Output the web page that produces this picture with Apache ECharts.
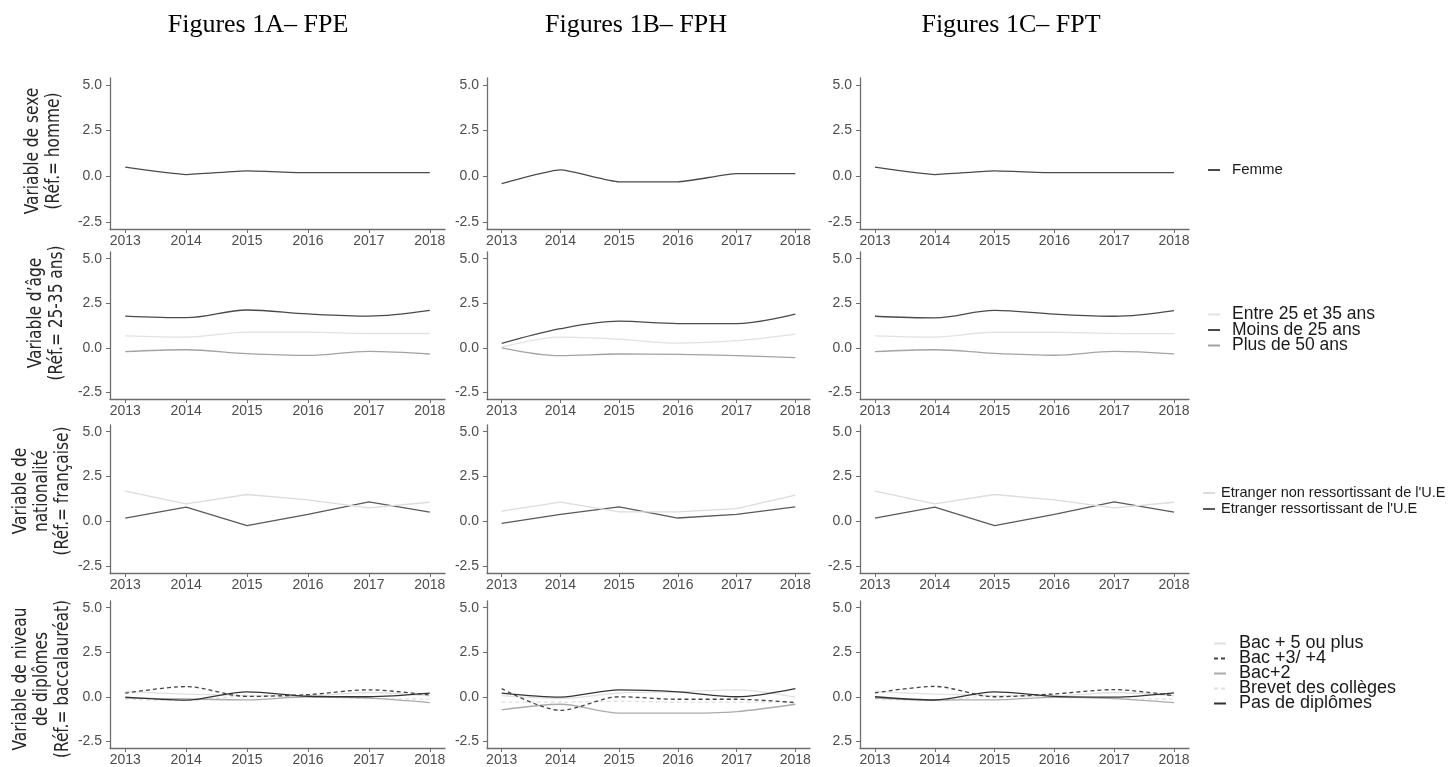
<!DOCTYPE html>
<html><head><meta charset="utf-8">
<script src="https://cdn.jsdelivr.net/npm/echarts@6/dist/echarts.min.js"></script>
<style>html,body{margin:0;padding:0;background:#fff}#c{width:1453px;height:767px}</style>
</head><body><div id="c"></div>
<script>
// ---------- data ----------
const years = [2013, 2014, 2015, 2016, 2017, 2018];
const yTicks = [-2.5, 0, 2.5, 5];
const columnTitles = ['Figures 1A\u2013 FPE', 'Figures 1B\u2013 FPH', 'Figures 1C\u2013 FPT'];
const rowLabels = [
  ['Variable de sexe', '(Réf.= homme)'],
  ['Variable d\u2019âge', '(Réf.= 25-35 ans)'],
  ['Variable de', 'nationalité', '(Réf.= française)'],
  ['Variable de niveau', 'de diplômes', '(Réf.= baccalauréat)']
];

// Row 1 : sexe
const femmeFPE = [0.5, 0.1, 0.3, 0.2, 0.2, 0.2];
const femmeFPH = [-0.4, 0.35, -0.3, -0.3, 0.15, 0.15];
const femmeFPT = [0.5, 0.1, 0.3, 0.2, 0.2, 0.2];

// Row 2 : âge
const entreFPE = [0.67, 0.6, 0.88, 0.88, 0.8, 0.8];
const moinsFPE = [1.78, 1.69, 2.12, 1.9, 1.78, 2.1];
const plusFPE  = [-0.22, -0.11, -0.33, -0.43, -0.2, -0.35];
const entreFPH = [0.04, 0.6, 0.48, 0.26, 0.4, 0.77];
const moinsFPH = [0.24, 1.07, 1.49, 1.36, 1.36, 1.89];
const plusFPH  = [0, -0.44, -0.35, -0.37, -0.44, -0.55];
const entreFPT = [0.67, 0.6, 0.87, 0.87, 0.81, 0.79];
const moinsFPT = [1.77, 1.68, 2.1, 1.89, 1.77, 2.09];
const plusFPT  = [-0.22, -0.11, -0.32, -0.42, -0.2, -0.34];

// Row 3 : nationalité
const nonUeFPE = [1.69, 0.98, 1.5, 1.2, 0.76, 1.07];
const ueFPE    = [0.19, 0.8, -0.24, 0.39, 1.09, 0.52];
const nonUeFPH = [0.58, 1.07, 0.53, 0.53, 0.71, 1.47];
const ueFPH    = [-0.11, 0.39, 0.81, 0.19, 0.39, 0.81];
const nonUeFPT = [1.69, 0.98, 1.5, 1.2, 0.76, 1.07];
const ueFPT    = [0.19, 0.8, -0.24, 0.39, 1.09, 0.52];

// Row 4 : diplômes
const bac5FPE   = [0.3, 0.15, 0.07, 0.05, 0.24, 0.05];
const bac34FPE  = [0.2, 0.57, 0.02, 0.12, 0.39, 0.1];
const bac2FPE   = [-0.07, -0.12, -0.17, 0, -0.08, -0.33];
const brevetFPE = [-0.13, -0.22, 0.05, 0, -0.1, -0.13];
const pasFPE    = [-0.02, -0.19, 0.28, 0.03, 0, 0.2];
const bac5FPH   = [0.07, -0.1, 0.21, 0.28, 0.39, -0.02];
const bac34FPH  = [0.46, -0.76, 0, -0.14, -0.14, -0.33];
const bac2FPH   = [-0.74, -0.42, -0.92, -0.92, -0.83, -0.42];
const brevetFPH = [-0.3, -0.3, -0.25, -0.3, -0.3, -0.3];
const pasFPH    = [0.21, -0.02, 0.39, 0.28, 0, 0.46];
const bac5FPT   = [0.3, 0.15, 0.07, 0.05, 0.24, 0.05];
const bac34FPT  = [0.22, 0.58, 0, 0.16, 0.4, 0.06];
const bac2FPT   = [-0.07, -0.18, -0.17, -0.03, -0.1, -0.33];
const brevetFPT = [-0.13, -0.22, 0.05, 0, -0.1, -0.13];
const pasFPT    = [0, -0.18, 0.28, 0.02, -0.02, 0.22];

// series per row: [name, FPE, FPH, FPT] in drawing order
const rowSeries = [
  [['Femme', femmeFPE, femmeFPH, femmeFPT]],
  [['Entre 25 et 35 ans', entreFPE, entreFPH, entreFPT],
   ['Plus de 50 ans', plusFPE, plusFPH, plusFPT],
   ['Moins de 25 ans', moinsFPE, moinsFPH, moinsFPT]],
  [["Etranger ressortissant de l'U.E", ueFPE, ueFPH, ueFPT],
   ["Etranger non ressortissant de l'U.E", nonUeFPE, nonUeFPH, nonUeFPT]],
  [['Bac + 5 ou plus', bac5FPE, bac5FPH, bac5FPT],
   ['Brevet des collèges', brevetFPE, brevetFPH, brevetFPT],
   ['Bac+2', bac2FPE, bac2FPH, bac2FPT],
   ['Bac +3/ +4', bac34FPE, bac34FPH, bac34FPT],
   ['Pas de diplômes', pasFPE, pasFPH, pasFPT]]
];
const legendOrder = [
  ['Femme'],
  ['Entre 25 et 35 ans', 'Moins de 25 ans', 'Plus de 50 ans'],
  ["Etranger non ressortissant de l'U.E", "Etranger ressortissant de l'U.E"],
  ['Bac + 5 ou plus', 'Bac +3/ +4', 'Bac+2', 'Brevet des collèges', 'Pas de diplômes']
];

// ---------- styles / layout ----------
const styles = {
  'Femme': {color: '#4a4a4a'},
  'Entre 25 et 35 ans': {color: '#e2e2e2'},
  'Moins de 25 ans': {color: '#4a4a4a'},
  'Plus de 50 ans': {color: '#a3a3a3'},
  "Etranger non ressortissant de l'U.E": {color: '#dcdcdc'},
  "Etranger ressortissant de l'U.E": {color: '#5a5a5a'},
  'Bac + 5 ou plus': {color: '#e0e0e0'},
  'Bac +3/ +4': {color: '#444444', type: [4, 3]},
  'Bac+2': {color: '#ababab'},
  'Brevet des collèges': {color: '#e0e0e0', type: [4, 3]},
  'Pas de diplômes': {color: '#333333'}
};
const smoothByRow = [0.15, 0.35, false, 0.3];
const colBoxes = [{left: 110, width: 335}, {left: 487, width: 323}, {left: 860, width: 329}];
const rowBoxes = [{top: 78, height: 151}, {top: 252, height: 147}, {top: 425, height: 148}, {top: 601, height: 148}];
const colCenters = [258, 636, 1011];
const rowLabelPos = [[44, 151], [47, 313], [42, 491], [42, 679]];
const legendPos = [
  {left: 1207, top: 162.5, fontSize: 15, lh: 15, pad: 7, gap: 0},
  {left: 1207, top: 305.5, fontSize: 17.5, lh: 15.5, pad: 7, gap: -2.5},
  {left: 1202, top: 485, fontSize: 14.5, lh: 16, pad: 1, gap: 0},
  {left: 1213, top: 634.5, fontSize: 18, lh: 15, pad: 8, gap: -3}
];

const axisColor = '#6e6e6e';
const labelColor = '#4d4d4d';
const font = 'Liberation Sans, Arial, sans-serif';

const grid = [], xAxis = [], yAxis = [], series = [], legend = [], graphic = [];
let gi = 0;
for (let r = 0; r < 4; r++) {
  for (let c = 0; c < 3; c++) {
    grid.push({left: colBoxes[c].left, width: colBoxes[c].width, top: rowBoxes[r].top, height: rowBoxes[r].height, containLabel: false});
    xAxis.push({
      type: 'value', gridIndex: gi, min: 2012.75, max: 2018.25,
      axisLine: {onZero: false, lineStyle: {color: axisColor, width: 1.3}},
      axisTick: {show: true, length: 4, customValues: years, lineStyle: {color: axisColor}},
      axisLabel: {customValues: years, margin: 5, color: labelColor, fontSize: 14, fontFamily: font, formatter: v => String(v)},
      splitLine: {show: false}
    });
    const oddLabel = (r === 3 && c === 2);
    yAxis.push({
      type: 'value', gridIndex: gi, min: -2.875, max: 5.375,
      axisLine: {show: true, onZero: false, lineStyle: {color: axisColor, width: 1.3}},
      axisTick: {show: true, length: 4, customValues: yTicks, lineStyle: {color: axisColor}},
      axisLabel: {customValues: yTicks, margin: 8, color: labelColor, fontSize: 14, fontFamily: font,
        formatter: v => (oddLabel && v === -2.5) ? '2.5' : v.toFixed(1)},
      splitLine: {show: false}
    });
    rowSeries[r].forEach(s => {
      const st = styles[s[0]];
      series.push({
        type: 'line', name: s[0], xAxisIndex: gi, yAxisIndex: gi,
        data: years.map((y, i) => [y, s[c + 1][i]]),
        symbol: 'none', smooth: smoothByRow[r],
        color: st.color,
        lineStyle: {color: st.color, width: 1.3, type: st.type || 'solid'},
        silent: true
      });
    });
    gi++;
  }
  const lp = legendPos[r];
  legend.push({
    orient: 'vertical', left: lp.left, top: lp.top, padding: 0, itemGap: lp.gap,
    itemWidth: 12, itemHeight: 8, selectedMode: false,
    itemStyle: {opacity: 0},
    data: legendOrder[r],
    textStyle: {fontSize: lp.fontSize, fontFamily: font, color: '#1a1a1a', lineHeight: lp.lh, padding: [0, 0, 0, lp.pad]}
  });
  graphic.push({
    type: 'text', x: rowLabelPos[r][0], y: rowLabelPos[r][1], rotation: Math.PI / 2, scaleX: 0.9,
    style: {text: rowLabels[r].join('\n'), align: 'center', verticalAlign: 'middle',
      fontSize: 19, fontFamily: '"Liberation Sans Narrow", "DejaVu Sans Condensed", "Open Sans", sans-serif',
      lineHeight: 21, fill: '#262626'}
  });
}
columnTitles.forEach((t, c) => {
  graphic.push({
    type: 'text', x: colCenters[c], y: 25,
    style: {text: t, align: 'center', verticalAlign: 'middle', fontSize: 26,
      fontFamily: '"Liberation Serif", "Times New Roman", serif', fill: '#000'}
  });
});

const chart = echarts.init(document.getElementById('c'), null, {renderer: 'canvas'});
chart.setOption({
  backgroundColor: '#ffffff', animation: false,
  grid, xAxis, yAxis, series, legend, graphic
});
</script>
</body></html>
